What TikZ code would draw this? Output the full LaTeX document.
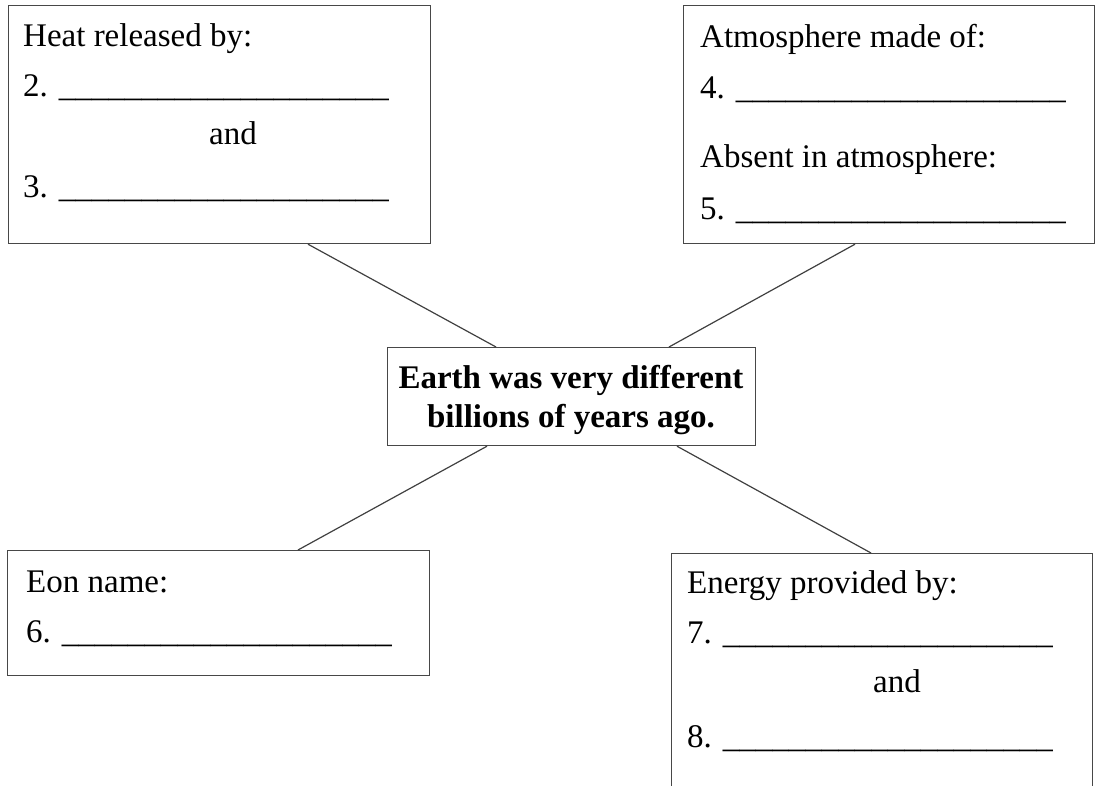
\documentclass[tikz,border=0pt]{standalone}
\usepackage{fontspec}
\setmainfont{Liberation Serif}
\usetikzlibrary{calc}
\newcommand{\blank}{\_\_\_\_\_\_\_\_\_\_\_\_\_\_\_\_\_\_\_\_}
\tikzset{
  box/.style={draw=black!72, line width=1.2pt, rectangle, inner sep=0pt, anchor=north west},
  txt/.style={anchor=base west, inner sep=0pt, font=\fontsize{33}{40}\selectfont},
  mid/.style={anchor=base, inner sep=0pt, font=\fontsize{33}{40}\selectfont},
  title/.style={anchor=base, inner sep=0pt, font=\bfseries\fontsize{33}{40}\selectfont},
  link/.style={draw=black!75, line width=1.2pt},
}
\begin{document}
\begin{tikzpicture}[x=1pt,y=-1pt]
\useasboundingbox (0,0) rectangle (1096,786);
\clip (0,0) rectangle (1096,786);

% boxes
\node[box, minimum width=422pt, minimum height=238pt] (heat) at (8,5) {};
\node[box, minimum width=411pt, minimum height=238pt] (atm) at (683,5) {};
\node[box, minimum width=368pt, minimum height=98pt] (earth) at (387,347) {};
\node[box, minimum width=422pt, minimum height=125pt] (eon) at (7,550) {};
\node[box, minimum width=421pt, minimum height=260pt] (energy) at (671,553) {};

% central statement
\node[title] (earth1) at (571,389) {Earth was very different};
\node[title] (earth2) at (571,428) {billions of years ago.};

% heat box
\node[txt] (heat0) at (23,47) {Heat released by:};
\node[txt] (heat2) at (23,97) {2. \blank};
\node[mid] (heatand) at (233,145) {and};
\node[txt] (heat3) at (23,198) {3. \blank};

% atmosphere box
\node[txt] (atm0) at (700,48) {Atmosphere made of:};
\node[txt] (atm4) at (700,99) {4. \blank};
\node[txt] (atm1) at (700,168) {Absent in atmosphere:};
\node[txt] (atm5) at (700,220) {5. \blank};

% eon box
\node[txt] (eon0) at (26,592) {Eon name:};
\node[txt] (eon6) at (26,642) {6. \blank};

% energy box
\node[txt] (energy0) at (687,593) {Energy provided by:};
\node[txt] (energy7) at (687,643) {7. \blank};
\node[mid] (energyand) at (897,692) {and};
\node[txt] (energy8) at (687,747) {8. \blank};

% connectors
\draw[link] ($(heat.south west)+(300,0)$) -- ($(earth.north west)+(109,0)$);
\draw[link] ($(atm.south west)+(172,0)$) -- ($(earth.north west)+(282,0)$);
\draw[link] ($(eon.north west)+(291,0)$) -- ($(earth.south west)+(100,0)$);
\draw[link] ($(energy.north west)+(200,0)$) -- ($(earth.south west)+(290,0)$);
\end{tikzpicture}
\end{document}
